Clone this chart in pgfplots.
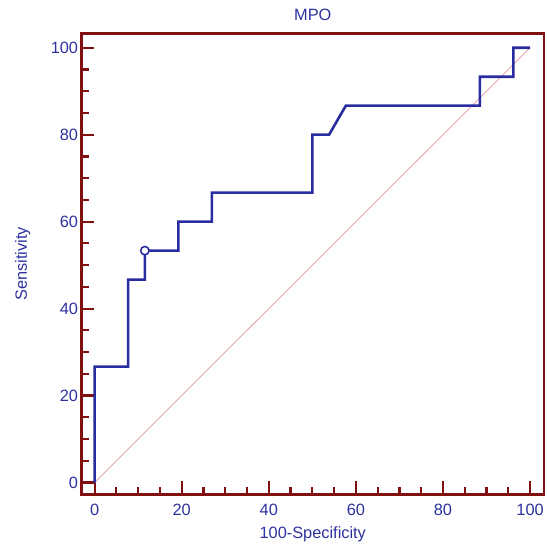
\documentclass[border=0pt]{standalone}
\usepackage{pgfplots}
\pgfplotsset{compat=1.18}
\usepackage{fontspec}
\setmainfont{Liberation Sans}
\definecolor{boxred}{RGB}{128,16,16}
\definecolor{curveblue}{RGB}{40,44,160}
\definecolor{textblue}{RGB}{45,50,160}
\definecolor{diagpink}{RGB}{225,170,170}
\begin{document}
\begin{tikzpicture}
\begin{axis}[
  name=ax,
  width=465bp, height=463bp, scale only axis,
  xmin=-3, xmax=103.2, ymin=-2.7, ymax=103.2,
  axis line style={boxred, line width=3bp},
  xtick={0,20,...,100}, ytick={0,20,...,100},
  minor x tick num=3, minor y tick num=3,
  tick align=inside, xtick pos=bottom, ytick pos=left,
  major tick length=13bp, minor tick length=7bp,
  every tick/.style={boxred, line width=2.2bp},
  /pgf/number format/assume math mode=true,
  ticklabel style={font=\fontsize{16.5}{18}\selectfont, text=textblue},
  xticklabel style={anchor=center, yshift=-15.5bp},
  xlabel={100-Specificity}, ylabel={Sensitivity},
  label style={font=\fontsize{16.5}{18}\selectfont, text=textblue},
  xlabel style={at={(axis description cs:0.5,0)}, anchor=base, yshift=-44bp},
  ylabel style={at={(axis description cs:0,0.5)}, anchor=base, yshift=55bp},
  title={MPO}, title style={font=\fontsize{16.5}{18}\selectfont, text=textblue, at={(axis description cs:0.5,1)}, anchor=base, yshift=7.5bp},
  clip=false,
]
\addplot[diagpink, line width=0.9bp] coordinates {(0,0) (100,100)};
\addplot[curveblue, line width=2.6bp] coordinates {
(0,0) (0,26.67) (7.69,26.67) (7.69,46.67) (11.54,46.67) (11.54,53.33)
(19.23,53.33) (19.23,60) (26.92,60) (26.92,66.67) (50,66.67) (50,80)
(53.85,80) (57.69,86.67) (88.46,86.67) (88.46,93.33) (96.15,93.33)
(96.15,100) (100,100)};
\addplot[only marks, mark=*, mark size=4.2bp, draw=curveblue, fill=white, line width=1.6bp, mark options={draw=curveblue, fill=white}] coordinates {(11.54,53.33)};
\end{axis}
\path (ax.south west) ++(-82bp,-50bp);
\path (ax.north east) ++(0bp,34bp);
\end{tikzpicture}
\end{document}
